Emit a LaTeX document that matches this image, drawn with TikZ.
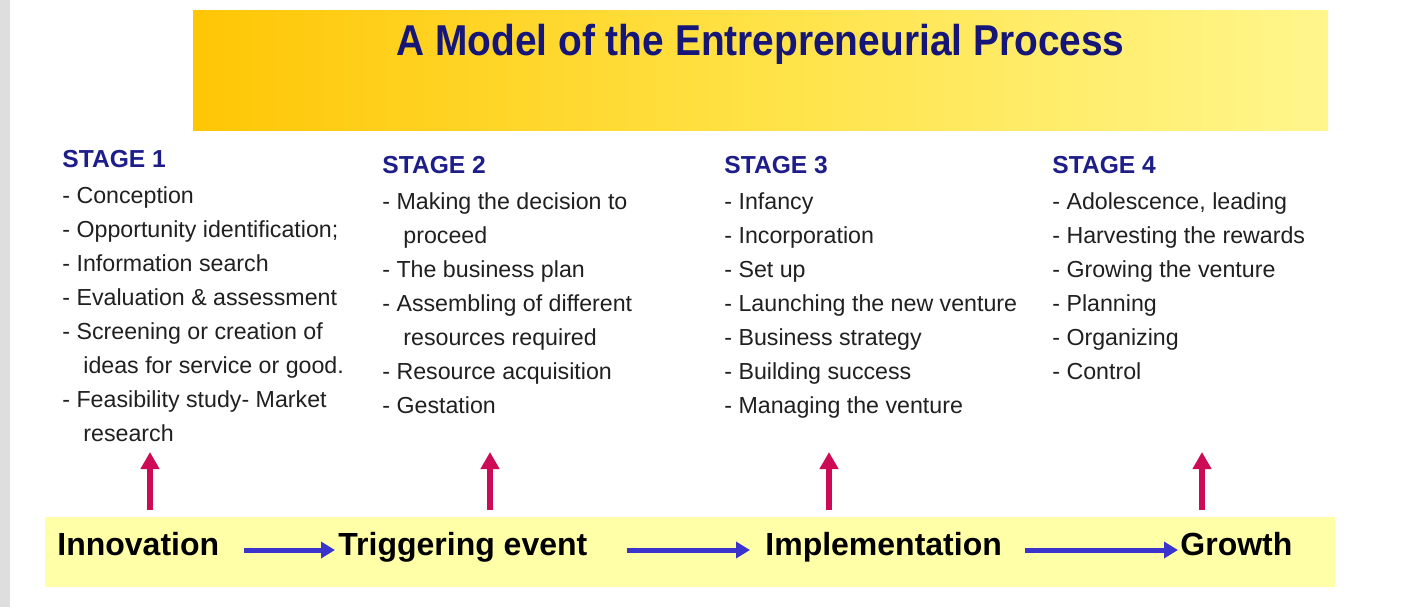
\documentclass[tikz,border=0pt]{standalone}
\usepackage{fontspec}
\setmainfont{Liberation Sans}
\newfontfamily\bannerfont[FakeStretch=0.9]{Liberation Sans}
\usetikzlibrary{arrows.meta,positioning}
\definecolor{titlenavy}{RGB}{22,22,120}
\definecolor{stageblue}{RGB}{30,30,138}
\definecolor{listgray}{RGB}{32,32,32}
\definecolor{bannergold}{RGB}{255,198,5}
\definecolor{bannermid}{RGB}{255,226,70}
\definecolor{bannerpale}{RGB}{255,246,140}
\definecolor{barpale}{RGB}{255,255,168}
\definecolor{flowblue}{RGB}{58,52,205}
\definecolor{riseberry}{RGB}{205,10,85}
\definecolor{edgegray}{RGB}{222,222,222}
\newcommand{\wrapline}{\hspace*{10.5pt}}

\begin{document}
\begin{tikzpicture}[ x=0.5pt, y=-0.5pt,
  banner/.style={rectangle, left color=bannergold, right color=bannerpale, middle color=bannermid,
    minimum width=567.5pt, minimum height=60pt, inner sep=0pt},
  phasebar/.style={rectangle, fill=barpale, minimum width=645pt, minimum height=35pt, inner sep=0pt},
  headline/.style={anchor=base, inner sep=0pt, text=titlenavy, font=\bannerfont\bfseries\fontsize{21.6}{26}\selectfont},
  stagehead/.style={anchor=base west, inner sep=0pt, text=stageblue, font=\bfseries\fontsize{12.3}{15}\selectfont},
  stagelist/.style={anchor=north west, inner sep=0pt, align=left, text=listgray, font=\fontsize{11.6}{17}\selectfont},
  phase/.style={anchor=base west, inner sep=0pt, font=\bfseries\fontsize{16}{19}\selectfont},
  flow/.style={draw=flowblue, line width=2.5pt, -{Triangle[length=7pt,width=8pt]}},
  rise/.style={draw=riseberry, line width=3pt, -{Triangle[length=8.5pt,width=9pt]}},
  ]

  \fill[white] (0,0) rectangle (1404,607);
  \useasboundingbox (0,0) rectangle (1404,607);
  \fill[edgegray] (0,0) rectangle (10,607);

  \node (banner) [banner] at (760.5,70) {};
  \node (title) [headline] at (760.5,55) {A Model of the Entrepreneurial Process};

  \node (head1) [stagehead] at (62,167) {STAGE 1};
  \node (list1) [stagelist] at ([yshift=-6.1pt]head1.base west) {\strut- Conception\\
    - Opportunity identification;\\ - Information search\\ - Evaluation \& assessment\\
    - Screening or creation of\\ \wrapline ideas for service or good.\\
    - Feasibility study- Market\\ \wrapline research};

  \node (head2) [stagehead] at (382,173) {STAGE 2};
  \node (list2) [stagelist] at ([yshift=-6.1pt]head2.base west) {\strut- Making the decision to\\
    \wrapline proceed\\ - The business plan\\ - Assembling of different\\
    \wrapline resources required\\ - Resource acquisition\\ - Gestation};

  \node (head3) [stagehead] at (724,173) {STAGE 3};
  \node (list3) [stagelist] at ([yshift=-6.1pt]head3.base west) {\strut- Infancy\\ - Incorporation\\
    - Set up\\ - Launching the new venture\\ - Business strategy\\ - Building success\\
    - Managing the venture};

  \node (head4) [stagehead] at (1052,173) {STAGE 4};
  \node (list4) [stagelist] at ([yshift=-6.1pt]head4.base west) {\strut- Adolescence, leading\\
    - Harvesting the rewards\\ - Growing the venture\\ - Planning\\ - Organizing\\ - Control};

  \node (bar) [phasebar] at (690,552) {};
  \node (innovation) [phase] at (57,555) {Innovation};
  \node (trigger) [phase] at (338,555) {Triggering event};
  \node (implement) [phase] at (765,555) {Implementation};
  \node (growth) [phase] at (1180,555) {Growth};

  \coordinate (rise1) at (150,510);
  \coordinate (rise2) at (490,510);
  \coordinate (rise3) at (829,510);
  \coordinate (rise4) at (1202,510);

  % special edges:
  \draw[flow] ([shift={(12pt,2.5pt)}]innovation.base east) -- ([shift={(-1.5pt,2.5pt)}]trigger.base west);
  \draw[flow] ([shift={(19.5pt,2.5pt)}]trigger.base east) -- ([shift={(-7.5pt,2.5pt)}]implement.base west);
  \draw[flow] ([shift={(11.5pt,2.5pt)}]implement.base east) -- ([shift={(-1pt,2.5pt)}]growth.base west);
  \draw[rise] (rise1) -- ++(0,-58);
  \draw[rise] (rise2) -- ++(0,-58);
  \draw[rise] (rise3) -- ++(0,-58);
  \draw[rise] (rise4) -- ++(0,-58);
\end{tikzpicture}
\end{document}
